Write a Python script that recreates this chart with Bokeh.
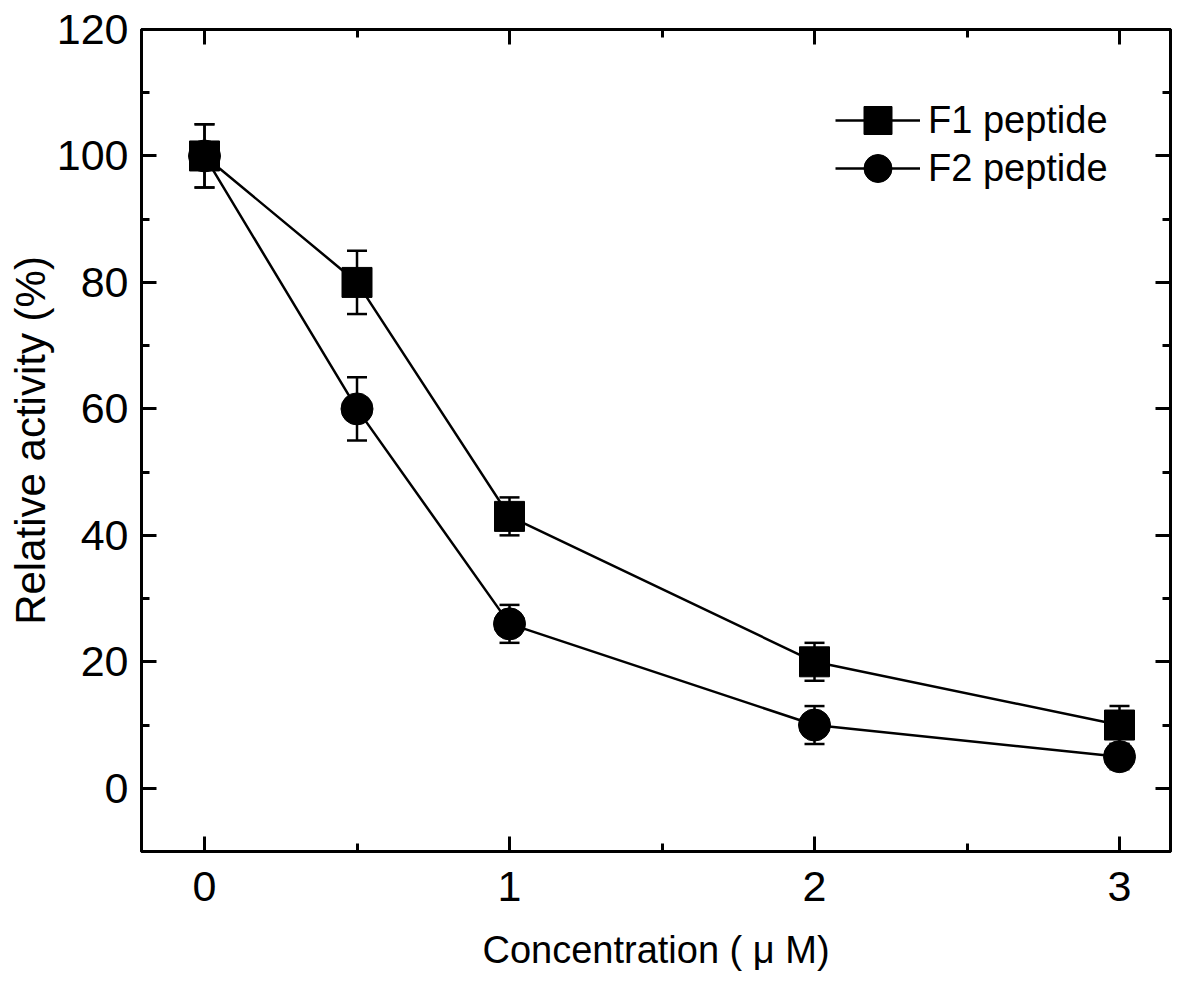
from bokeh.plotting import figure
from bokeh.models import (ColumnDataSource, Whisker, TeeHead, LinearAxis, FixedTicker,
                          Legend, LegendItem, Range1d)
from bokeh.embed import file_html
from bokeh.resources import INLINE

# ---- data ----
conc = [0, 0.5, 1, 2, 3]
f1_vals = [100, 80, 43, 20, 10]
f1_err = [5, 5, 3, 3, 3]
f2_vals = [100, 60, 26, 10, 5]
f2_err = [5, 5, 3, 3, 2]

x_major = [0, 1, 2, 3]
x_minor = [0.5, 1.5, 2.5]
y_major = [0, 20, 40, 60, 80, 100, 120]
y_minor = [10, 30, 50, 70, 90, 110]

FONT = "Liberation Sans"

p = figure(width=1200, height=989, output_backend="svg", toolbar_location=None,
           x_range=Range1d(-0.2066, 3.1672), y_range=Range1d(-10, 120),
           min_border_left=141, min_border_right=30, min_border_top=29, min_border_bottom=138)
p.grid.visible = False
p.outline_line_color = "black"
p.outline_line_width = 3
p.background_fill_color = "white"
p.border_fill_color = "white"

def style_axis(ax, ticks, minor, show_labels):
    ax.ticker = FixedTicker(ticks=ticks, minor_ticks=minor)
    ax.axis_line_width = 3
    ax.axis_line_color = "black"
    ax.major_tick_in = 15
    ax.major_tick_out = 0
    ax.minor_tick_in = 8
    ax.minor_tick_out = 0
    ax.major_tick_line_width = 3
    ax.minor_tick_line_width = 3
    ax.major_label_text_font = FONT
    ax.major_label_text_font_size = "43px"
    ax.major_label_text_color = "black"
    ax.axis_label_text_font = FONT
    ax.axis_label_text_font_style = "normal"
    ax.axis_label_text_font_size = "38px"
    ax.axis_label_text_color = "black"
    if not show_labels:
        ax.major_label_text_font_size = "0px"
        ax.major_label_text_alpha = 0

xb = p.xaxis[0]
style_axis(xb, x_major, x_minor, True)
xb.axis_label = "Concentration ( \u03bc M)"
xb.major_label_standoff = 20
xb.axis_label_standoff = 25

yl = p.yaxis[0]
style_axis(yl, y_major, y_minor, True)
yl.axis_label = "Relative activity (%)"
yl.axis_label_text_font_size = "42px"
yl.major_label_standoff = 13
yl.axis_label_standoff = 0

xt = LinearAxis()
style_axis(xt, x_major, x_minor, False)
p.add_layout(xt, "above")
yr = LinearAxis()
style_axis(yr, y_major, y_minor, False)
p.add_layout(yr, "right")

src1 = ColumnDataSource(dict(x=conc, y=f1_vals,
                             up=[v + e for v, e in zip(f1_vals, f1_err)],
                             lo=[v - e for v, e in zip(f1_vals, f1_err)]))
src2 = ColumnDataSource(dict(x=conc, y=f2_vals,
                             up=[v + e for v, e in zip(f2_vals, f2_err)],
                             lo=[v - e for v, e in zip(f2_vals, f2_err)]))

for src in (src1, src2):
    w = Whisker(source=src, base="x", upper="up", lower="lo", dimension="height",
                line_color="black", line_width=2.5, level="underlay",
                upper_head=TeeHead(size=20, line_width=2.5, line_color="black"),
                lower_head=TeeHead(size=20, line_width=2.5, line_color="black"))
    p.add_layout(w)

l1 = p.line("x", "y", source=src1, line_color="black", line_width=2.5)
l2 = p.line("x", "y", source=src2, line_color="black", line_width=2.5)
s1 = p.scatter("x", "y", source=src1, marker="square", size=30,
               fill_color="black", line_color="black")
s2 = p.scatter("x", "y", source=src2, marker="circle", size=32,
               fill_color="black", line_color="black")

def make_legend(label, rends, loc):
    return Legend(items=[LegendItem(label=label, renderers=rends)],
                  location=loc, margin=0, padding=0, spacing=0,
                  glyph_width=85, glyph_height=70, label_standoff=8,
                  label_text_font=FONT, label_text_font_size="38px",
                  label_text_color="black",
                  border_line_color=None, background_fill_alpha=0)

p.add_layout(make_legend("F1 peptide", [l1, s1], (694, 696)))
p.add_layout(make_legend("F2 peptide", [l2, s2], (694, 648)))

open("out.html", "w").write(file_html(p, INLINE))
